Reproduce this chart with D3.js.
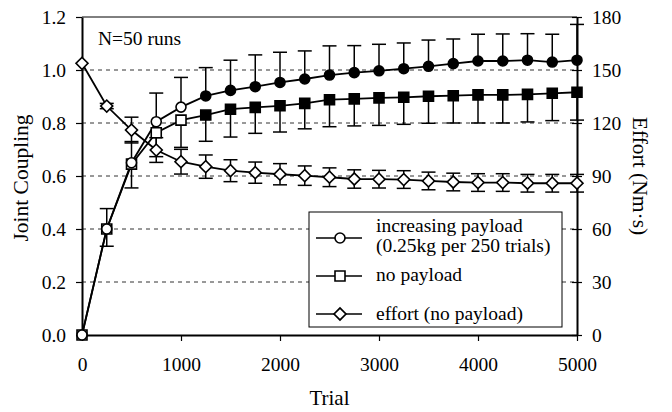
<!DOCTYPE html>
<html>
<head>
<meta charset="utf-8">
<script src="https://cdn.jsdelivr.net/npm/d3@7"></script>
<style>
  body { margin: 0; background: #fff; }
  text { font-family: "Liberation Serif", "Times New Roman", serif; fill: #000; }
</style>
</head>
<body>
<script>
// trials sampled every 250
const trials = [0, 250, 500, 750, 1000, 1250, 1500, 1750, 2000, 2250, 2500,
                2750, 3000, 3250, 3500, 3750, 4000, 4250, 4500, 4750, 5000];

// joint coupling, increasing payload (circles) + upper error
const payload = [0.0, 0.40, 0.65, 0.805, 0.86, 0.902, 0.923, 0.937, 0.953, 0.966, 0.981,
                 0.99, 0.997, 1.005, 1.014, 1.024, 1.034, 1.034, 1.037, 1.030, 1.037];
const payloadErr = [0, 0.077, 0.08, 0.108, 0.112, 0.107, 0.114, 0.12, 0.114, 0.106, 0.11,
                    0.102, 0.10, 0.097, 0.099, 0.093, 0.101, 0.102, 0.10, 0.105, 0.135];

// joint coupling, no payload (squares) + lower error
const noPayload = [0.0, 0.40, 0.645, 0.763, 0.811, 0.830, 0.852, 0.859, 0.865, 0.874, 0.888,
                   0.891, 0.895, 0.897, 0.901, 0.903, 0.906, 0.906, 0.908, 0.912, 0.916];
const noPayloadErr = [0, 0.065, 0.09, 0.09, 0.103, 0.099, 0.105, 0.098, 0.099, 0.096, 0.102,
                      0.102, 0.104, 0.102, 0.102, 0.103, 0.106, 0.106, 0.104, 0.103, 0.105];

// effort in Nm.s (diamonds), right axis
const effort = [153.8, 129.6, 116, 104.7, 98.1, 95.3, 93.0, 91.9, 91.0, 90.2, 89.3,
                88.3, 88.2, 88.0, 87.2, 86.6, 86.3, 86.3, 85.9, 85.9, 85.9];
const effortErr = [0, 1.5, 7.3, 7, 7, 6.6, 6.2, 6, 6, 5.5, 5.3,
                   5.2, 5, 5, 5, 5, 5, 5, 5, 5, 5];

const xTicks = [0, 1000, 2000, 3000, 4000, 5000];
const couplingTicks = [0, 0.2, 0.4, 0.6, 0.8, 1.0, 1.2];
const effortTicks = [0, 30, 60, 90, 120, 150, 180];
const gridTicks = [0.2, 0.4, 0.6, 0.8, 1.0];

const width = 672, height = 412;
const firstFilled = 1250; // markers are solid from here on

const svg = d3.select('body').append('svg')
  .attr('width', width)
  .attr('height', height);

const x = d3.scaleLinear().domain([0, 5000]).range([82, 577]);
const y = d3.scaleLinear().domain([0, 1.2]).range([335, 17]);
const yR = d3.scaleLinear().domain([0, 180]).range([335, 17]);

// dashed grid
svg.append('g').selectAll('line').data(gridTicks).enter().append('line')
  .attr('x1', x(0)).attr('x2', x(5000))
  .attr('y1', d => y(d)).attr('y2', d => y(d))
  .attr('stroke', '#333').attr('stroke-width', 1)
  .attr('stroke-dasharray', '4,4');

// top frame
svg.append('line')
  .attr('x1', x(0)).attr('x2', x(5000))
  .attr('y1', y(1.2)).attr('y2', y(1.2))
  .attr('stroke', '#000').attr('stroke-width', 1);

function styleAxis(g) {
  g.attr('font-family', null).attr('font-size', null);
  g.select('.domain').attr('stroke-width', 2);
  g.selectAll('.tick line').attr('stroke-width', 1.2);
  g.selectAll('text').style('font-size', '19.5px');
}

svg.append('g').attr('transform', 'translate(' + x(0) + ',0)')
  .call(d3.axisLeft(y).tickValues(couplingTicks).tickFormat(d3.format('.1f'))
    .tickSize(6).tickSizeOuter(0).tickPadding(10))
  .call(styleAxis);

svg.append('g').attr('transform', 'translate(' + x(5000) + ',0)')
  .call(d3.axisRight(yR).tickValues(effortTicks)
    .tickSize(5).tickSizeOuter(0).tickPadding(10))
  .call(styleAxis)
  .call(g => g.selectAll('.tick line').attr('x1', -5));

svg.append('g').attr('transform', 'translate(0,' + y(0) + ')')
  .call(d3.axisBottom(x).tickValues(xTicks).tickFormat(d3.format('d'))
    .tickSize(6).tickSizeOuter(0).tickPadding(16))
  .call(styleAxis);

// axis titles
svg.append('text')
  .attr('transform', 'translate(28,178) rotate(-90)')
  .attr('text-anchor', 'middle')
  .style('font-size', '21.5px')
  .text('Joint Coupling');

svg.append('text')
  .attr('transform', 'translate(633,176) rotate(90)')
  .attr('text-anchor', 'middle')
  .style('font-size', '21.5px')
  .text('Effort (Nm·s)');

svg.append('text')
  .attr('x', (x(0) + x(5000)) / 2).attr('y', 405)
  .attr('text-anchor', 'middle')
  .style('font-size', '21px')
  .text('Trial');

svg.append('text')
  .attr('x', 98).attr('y', 45)
  .style('font-size', '19.5px')
  .text('N=50 runs');

// error bars
const cap = 7;
function errorBars(vals, lo, hi, scale) {
  const g = svg.append('g').attr('stroke', '#000').attr('stroke-width', 1.5);
  trials.forEach(function(t, i) {
    const cx = x(t);
    const a = scale(lo(i)), b = scale(hi(i));
    if (Math.abs(a - b) < 0.5) return;
    g.append('line').attr('x1', cx).attr('x2', cx).attr('y1', a).attr('y2', b);
    if (lo(i) !== vals[i]) g.append('line').attr('x1', cx - cap).attr('x2', cx + cap).attr('y1', a).attr('y2', a);
    if (hi(i) !== vals[i]) g.append('line').attr('x1', cx - cap).attr('x2', cx + cap).attr('y1', b).attr('y2', b);
  });
}

errorBars(effort, i => effort[i] - effortErr[i], i => effort[i] + effortErr[i], yR);
errorBars(noPayload, i => noPayload[i] - noPayloadErr[i], i => noPayload[i], y);
errorBars(payload, i => payload[i], i => payload[i] + payloadErr[i], y);

// lines
function drawLine(vals, scale) {
  const line = d3.line().x((d, i) => x(trials[i])).y(d => scale(d));
  svg.append('path').datum(vals)
    .attr('d', line)
    .attr('fill', 'none')
    .attr('stroke', '#000')
    .attr('stroke-width', 1.8);
}
drawLine(effort, yR);
drawLine(noPayload, y);
drawLine(payload, y);

const diamond = d3.symbol().type(d3.symbolSquare).size(72);
const square = d3.symbol().type(d3.symbolSquare).size(100);
const circle = d3.symbol().type(d3.symbolCircle).size(Math.PI * 25);

function drawMarkers(vals, scale, sym, rot, canFill) {
  svg.append('g').selectAll('path').data(vals).enter().append('path')
    .attr('d', sym)
    .attr('transform', (d, i) => 'translate(' + x(trials[i]) + ',' + scale(d) + ') rotate(' + rot + ')')
    .attr('fill', (d, i) => canFill && trials[i] >= firstFilled ? '#000' : '#fff')
    .attr('stroke', '#000')
    .attr('stroke-width', 1.6);
}
drawMarkers(effort, yR, diamond, 45, false);
drawMarkers(noPayload, y, square, 0, true);
drawMarkers(payload, y, circle, 0, true);

// legend
const legend = svg.append('g');
legend.append('rect')
  .attr('x', 309).attr('y', 212).attr('width', 253).attr('height', 115)
  .attr('fill', '#fff').attr('stroke', '#000').attr('stroke-width', 1);

const legendRows = [
  { y: 238, sym: circle, rot: 0, lines: ['increasing payload', '(0.25kg per 250 trials)'], base: [232, 251.5] },
  { y: 276, sym: square, rot: 0, lines: ['no payload'], base: [281] },
  { y: 314, sym: diamond, rot: 45, lines: ['effort (no payload)'], base: [319.5] }
];
legendRows.forEach(function(r) {
  legend.append('line')
    .attr('x1', 316).attr('x2', 362).attr('y1', r.y).attr('y2', r.y)
    .attr('stroke', '#000').attr('stroke-width', 1.5);
  legend.append('path')
    .attr('d', r.sym)
    .attr('transform', 'translate(340,' + r.y + ') rotate(' + r.rot + ')')
    .attr('fill', '#fff').attr('stroke', '#000').attr('stroke-width', 1.6);
  r.lines.forEach(function(s, k) {
    legend.append('text')
      .attr('x', 376).attr('y', r.base[k])
      .style('font-size', '19.5px')
      .text(s);
  });
});
</script>
</body>
</html>
